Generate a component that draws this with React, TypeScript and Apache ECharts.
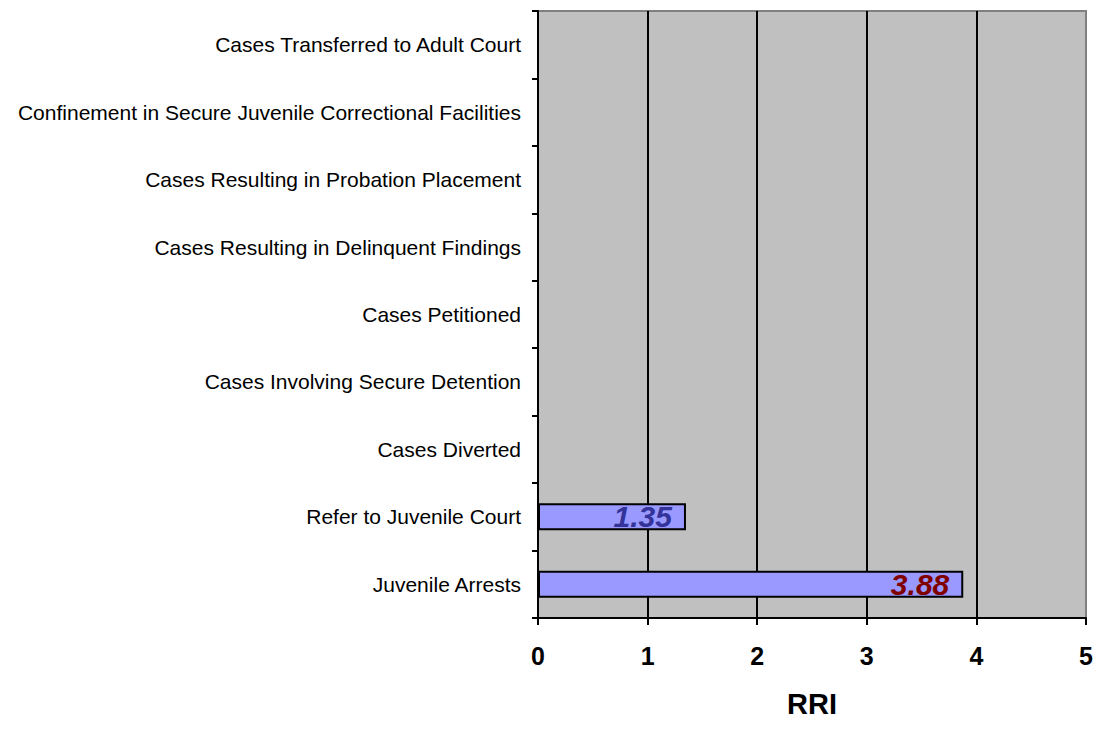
import React, { useEffect, useRef } from "react";
import * as echarts from "echarts";

// Stages of the juvenile justice process, listed bottom to top
const stages = [
  "Juvenile Arrests",
  "Refer to Juvenile Court",
  "Cases Diverted",
  "Cases Involving Secure Detention",
  "Cases Petitioned",
  "Cases Resulting in Delinquent Findings",
  "Cases Resulting in Probation Placement",
  "Confinement in Secure Juvenile Correctional Facilities",
  "Cases Transferred to Adult Court",
];

// Relative rate index per stage (null = no value reported)
const rriValues: (number | null)[] = [3.88, 1.35, null, null, null, null, null, null, null];

// Value label colours per stage
const labelColors = ["#800000", "#333399", "#000", "#000", "#000", "#000", "#000", "#000", "#000"];

const xTicks = [0, 1, 2, 3, 4, 5];

const FONT = "Arial, 'Liberation Sans', Helvetica, sans-serif";

export default function App() {
  const ref = useRef<HTMLDivElement>(null);

  useEffect(() => {
    if (!ref.current) return;
    const chart = echarts.init(ref.current, null, { renderer: "svg" });
    chart.setOption({
      animation: false,
      backgroundColor: "#ffffff",
      grid: {
        left: 538,
        top: 11,
        right: 12,
        bottom: 112,
        show: true,
        backgroundColor: "#C0C0C0",
        borderColor: "#808080",
        borderWidth: 2,
      },
      xAxis: {
        type: "value",
        min: xTicks[0],
        max: xTicks[xTicks.length - 1],
        interval: 1,
        name: "RRI",
        nameLocation: "middle",
        nameGap: 71,
        nameTextStyle: { fontFamily: FONT, fontSize: 29, fontWeight: "bold", color: "#000" },
        axisLine: { show: true, lineStyle: { color: "#000", width: 2 } },
        axisTick: { show: true, length: 7, lineStyle: { color: "#000", width: 2 } },
        axisLabel: { fontFamily: FONT, fontSize: 25, fontWeight: "bold", color: "#000", margin: 25 },
        splitLine: { show: true, showMinLine: false, showMaxLine: false, lineStyle: { color: "#000", width: 2 } },
      },
      yAxis: {
        type: "category",
        data: stages,
        axisLine: { show: true, lineStyle: { color: "#000", width: 2 } },
        axisTick: { show: true, length: 6, lineStyle: { color: "#000", width: 2 } },
        axisLabel: { fontFamily: FONT, fontSize: 21, color: "#000", margin: 17 },
        splitLine: { show: false },
      },
      series: [
        {
          type: "bar",
          barCategoryGap: "60%",
          data: rriValues.map((v, i) => ({
            value: v,
            label: { color: labelColors[i] },
          })),
          itemStyle: { color: "#9999FF", borderColor: "#000", borderWidth: 2 },
          label: {
            show: true,
            position: "insideRight",
            distance: 14,
            fontFamily: FONT,
            fontSize: 30,
            fontWeight: "bold",
            fontStyle: "italic",
            formatter: (p: any) => (p.value == null ? "" : Number(p.value).toFixed(2)),
          },
        },
      ],
    });
    return () => chart.dispose();
  }, []);

  return (
    <div
      ref={ref}
      style={{ position: "fixed", left: 0, top: 0, width: 1098, height: 730 }}
    />
  );
}
